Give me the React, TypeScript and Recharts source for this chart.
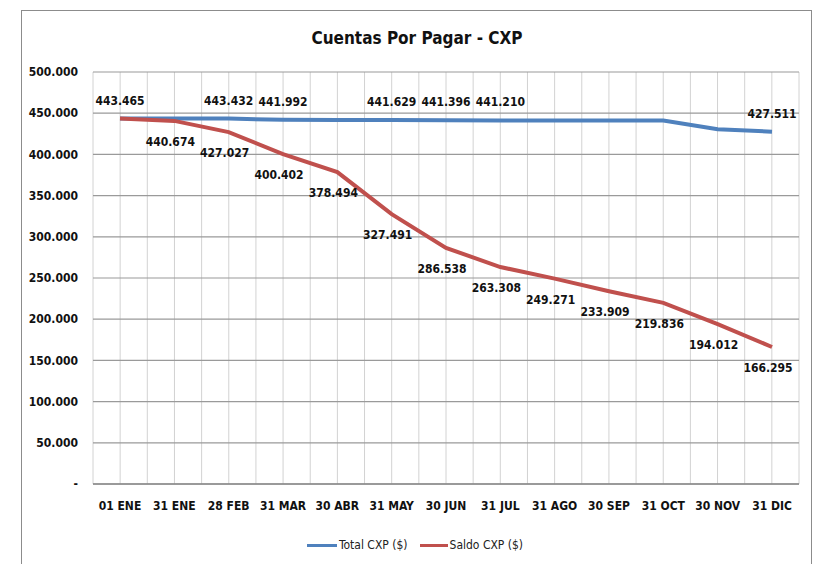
import React from "react";
import {
  LineChart,
  Line,
  XAxis,
  YAxis,
  CartesianGrid,
  Legend,
} from "recharts";

const MESES = [
  "01 ENE", "31 ENE", "28 FEB", "31 MAR", "30 ABR", "31 MAY", "30 JUN",
  "31 JUL", "31 AGO", "30 SEP", "31 OCT", "30 NOV", "31 DIC",
];

const TOTAL_CXP = [
  443465, 443450, 443432, 441992, 441800, 441629, 441396,
  441210, 441150, 441100, 441050, 430500, 427511,
];

const SALDO_CXP = [
  443465, 440674, 427027, 400402, 378494, 327491, 286538,
  263308, 249271, 233909, 219836, 194012, 166295,
];

// etiquetas visibles de la serie Total (las demás se quitaron en el original)
const TOTAL_CON_ETIQUETA = [0, 2, 3, 5, 6, 7, 12];
const SALDO_CON_ETIQUETA = [1, 2, 3, 4, 5, 6, 7, 8, 9, 10, 11, 12];

const Y_TICKS = [0, 50000, 100000, 150000, 200000, 250000, 300000, 350000, 400000, 450000, 500000];

const AZUL = "#4f81bd";
const ROJO = "#c0504d";
const FUENTE = "'DejaVu Sans Condensed', 'DejaVu Sans', sans-serif";
const ESTIRA = { fontStretch: "condensed" as const };

const fmt = (v: number) =>
  v === 0 ? "-" : String(Math.round(v)).replace(/\B(?=(\d{3})+(?!\d))/g, ".");

const data = MESES.map((mes, i) => ({
  mes,
  total: TOTAL_CXP[i],
  saldo: SALDO_CXP[i],
}));

const etiqueta = (mostrar: number[], arriba: boolean) => (props: any) => {
  const { x, y, value, index } = props;
  if (!mostrar.includes(index)) return null;
  return (
    <text
      x={x + (arriba ? 0 : -4)}
      y={y + (arriba ? -18 : 21)}
      textAnchor="middle"
      dominantBaseline="central"
      fontFamily={FUENTE}
      fontWeight="bold"
      fontSize={12}
      style={ESTIRA}
      fill="#111"
    >
      {fmt(value)}
    </text>
  );
};

const Leyenda = () => (
  <div
    style={{
      display: "flex",
      justifyContent: "center",
      alignItems: "center",
      height: 20,
      paddingLeft: 16,
      fontFamily: FUENTE,
      fontStretch: "condensed",
      fontSize: 12,
      color: "#222",
    }}
  >
    <span style={{ display: "inline-block", width: 30, height: 3, background: AZUL }} />
    <span style={{ marginLeft: 2, marginRight: 12 }}>Total CXP ($)</span>
    <span style={{ display: "inline-block", width: 28, height: 3, background: ROJO }} />
    <span style={{ marginLeft: 2 }}>Saldo CXP ($)</span>
  </div>
);

export default function App() {
  return (
    <div
      style={{
        position: "absolute",
        left: 0,
        top: 0,
        width: 814,
        height: 564,
        overflow: "hidden",
        background: "#fff",
      }}
    >
      <div
        style={{
          position: "absolute",
          left: 21,
          top: 10,
          width: 789,
          height: 600,
          border: "1px solid #8c8c8c",
        }}
      />
      <div
        style={{
          position: "absolute",
          left: 0,
          width: 834,
          top: 28,
          textAlign: "center",
          fontFamily: FUENTE,
          fontStretch: "condensed",
          fontWeight: "bold",
          fontSize: 17,
          color: "#111",
        }}
      >
        Cuentas Por Pagar - CXP
      </div>
      <div style={{ position: "absolute", left: 0, top: 0 }}>
        <LineChart
          width={814}
          height={564}
          data={data}
          margin={{ top: 72, right: 15, bottom: 9, left: 23 }}
        >
          <CartesianGrid
            horizontal={false}
            stroke="#d2d2d2"
            verticalCoordinatesGenerator={({ offset }: any) =>
              Array.from({ length: 27 }, (_, k) => offset.left + (k * offset.width) / 26)
            }
          />
          <CartesianGrid vertical={false} stroke="#9a9a9a" strokeWidth={1.2} />
          <XAxis
            dataKey="mes"
            padding={{ left: 27, right: 27 }}
            height={51}
            tickSize={0}
            tickMargin={17}
            axisLine={{ stroke: "#8a8a8a", strokeWidth: 1.5 }}
            tick={{ fill: "#111", fontSize: 12, fontWeight: "bold", fontFamily: FUENTE, style: ESTIRA }}
            interval={0}
          />
          <YAxis
            width={70}
            domain={[0, 500000]}
            ticks={Y_TICKS}
            tickFormatter={fmt}
            tickSize={0}
            tickMargin={15}
            axisLine={false}
            tick={{ fill: "#111", fontSize: 12, fontWeight: "bold", fontFamily: FUENTE, style: ESTIRA }}
          />
          <Legend
            verticalAlign="bottom"
            content={<Leyenda />}
            wrapperStyle={{ left: 0, width: 814 }}
          />
          <Line
            dataKey="total"
            name="Total CXP ($)"
            stroke={AZUL}
            strokeWidth={4}
            dot={false}
            isAnimationActive={false}
            label={etiqueta(TOTAL_CON_ETIQUETA, true)}
          />
          <Line
            dataKey="saldo"
            name="Saldo CXP ($)"
            stroke={ROJO}
            strokeWidth={4}
            dot={false}
            isAnimationActive={false}
            label={etiqueta(SALDO_CON_ETIQUETA, false)}
          />
        </LineChart>
      </div>
    </div>
  );
}
